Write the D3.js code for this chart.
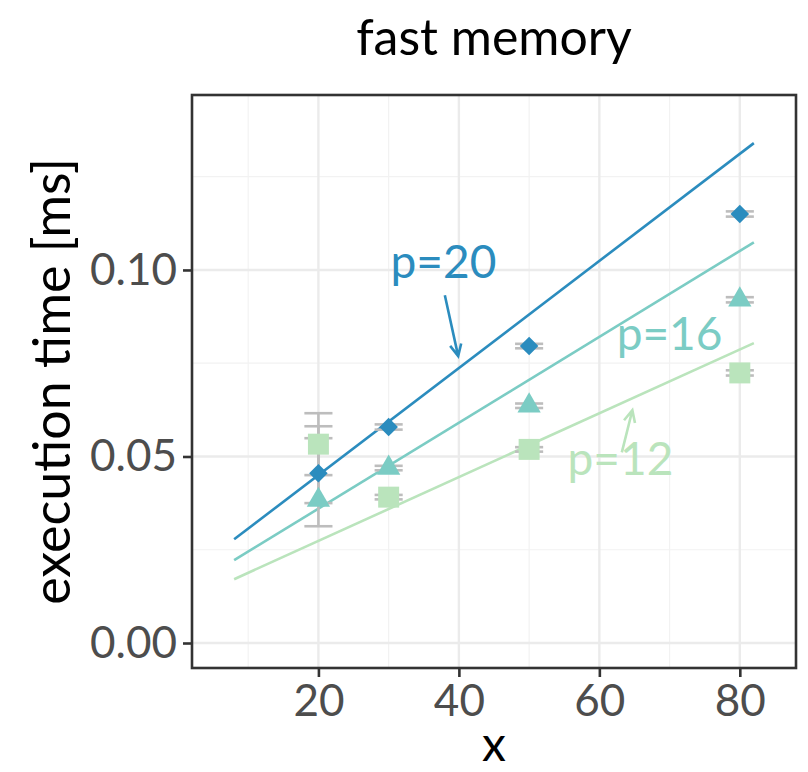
<!DOCTYPE html>
<html>
<head>
<meta charset="utf-8">
<script src="https://cdn.jsdelivr.net/npm/d3@7"></script>
<style>
  body { margin: 0; background: #fff; }
  text { font-family: Lato, "Open Sans", sans-serif; }
</style>
</head>
<body>
<div id="container"></div>
<script>
/* CONSTANTS AND GLOBALS */
const width = 808,
  height = 772,
  margin = { top: 95, bottom: 104, left: 192, right: 12 },
  colors = { p20: '#2b8cbe', p16: '#7bccc4', p12: '#bae4bc', err: '#bdbdbd' }

/* DATA */
const sizes = [20, 30, 50, 80]
const p20 = [0.0455, 0.0579, 0.0796, 0.1150]
const p16 = [0.0383, 0.0469, 0.0636, 0.0920]
const p12 = [0.0533, 0.0391, 0.0519, 0.0724]
const p20Lo = [0.0375, 0.0572, 0.0790, 0.1143]
const p20Hi = [0.0549, 0.0586, 0.0802, 0.1157]
const p16Lo = [0.0313, 0.0463, 0.0630, 0.0913]
const p16Hi = [0.0581, 0.0475, 0.0642, 0.0927]
const p12Lo = [0.0450, 0.0385, 0.0513, 0.0717]
const p12Hi = [0.0616, 0.0397, 0.0525, 0.0731]

// fitted lines, end points
const fitX = [8, 82]
const fit20 = [0.0278, 0.1340]
const fit16 = [0.0222, 0.1074]
const fit12 = [0.0171, 0.0804]

const xTicks = [20, 40, 60, 80]
const xMinor = [10, 30, 50, 70]
const yTicks = [0, 0.05, 0.10]
const yMinor = [0.025, 0.075, 0.125]

const labels = [
  { text: 'p=20', x: 37.8, y: 0.0978, color: colors.p20 },
  { text: 'p=16', x: 70.0, y: 0.0785, color: colors.p16 },
  { text: 'p=12', x: 63.0, y: 0.0450, color: colors.p12 }
]
const arrows = [
  { x1: 38.0, y1: 0.0932, x2: 39.9, y2: 0.0769, color: colors.p20 },
  { x1: 63.2, y1: 0.0511, x2: 64.7, y2: 0.0624, color: colors.p12 }
]

const series = [
  { key: 'p20', y: p20, lo: p20Lo, hi: p20Hi, fit: fit20, shape: d3.symbolDiamond2, color: colors.p20, size: 220 },
  { key: 'p16', y: p16, lo: p16Lo, hi: p16Hi, fit: fit16, shape: d3.symbolTriangle, color: colors.p16, size: 235 },
  { key: 'p12', y: p12, lo: p12Lo, hi: p12Hi, fit: fit12, shape: d3.symbolSquare, color: colors.p12, size: 440 }
]

/* SCALES */
const xScale = d3.scaleLinear()
  .domain([2.0, 88.0])
  .range([margin.left, width - margin.right])

const yScale = d3.scaleLinear()
  .domain([-0.0067, 0.1469])
  .range([height - margin.bottom, margin.top])

/* HTML ELEMENTS */
const svg = d3.select('#container')
  .append('svg')
  .attr('width', width)
  .attr('height', height)

// grid
svg.selectAll('.minor-x').data(xMinor).join('line')
  .attr('x1', d => xScale(d)).attr('x2', d => xScale(d))
  .attr('y1', margin.top).attr('y2', height - margin.bottom)
  .attr('stroke', '#f2f2f2').attr('stroke-width', 1.2)
svg.selectAll('.minor-y').data(yMinor).join('line')
  .attr('y1', d => yScale(d)).attr('y2', d => yScale(d))
  .attr('x1', margin.left).attr('x2', width - margin.right)
  .attr('stroke', '#f2f2f2').attr('stroke-width', 1.2)
svg.selectAll('.major-x').data(xTicks).join('line')
  .attr('x1', d => xScale(d)).attr('x2', d => xScale(d))
  .attr('y1', margin.top).attr('y2', height - margin.bottom)
  .attr('stroke', '#ebebeb').attr('stroke-width', 2.4)
svg.selectAll('.major-y').data(yTicks).join('line')
  .attr('y1', d => yScale(d)).attr('y2', d => yScale(d))
  .attr('x1', margin.left).attr('x2', width - margin.right)
  .attr('stroke', '#ebebeb').attr('stroke-width', 2.4)

// fitted lines
const line = d3.line().x((d, i) => xScale(fitX[i])).y(d => yScale(d))
svg.selectAll('.fit').data(series).join('path')
  .attr('d', d => line(d.fit))
  .attr('fill', 'none')
  .attr('stroke', d => d.color)
  .attr('stroke-width', 2.6)

// error bars
const capHalf = 2
series.forEach(s => {
  const g = svg.append('g').attr('stroke', colors.err).attr('stroke-width', 2.6)
  sizes.forEach((x, i) => {
    g.append('line')
      .attr('x1', xScale(x)).attr('x2', xScale(x))
      .attr('y1', yScale(s.lo[i])).attr('y2', yScale(s.hi[i]))
    ;[s.lo[i], s.hi[i]].forEach(v => {
      g.append('line')
        .attr('x1', xScale(x - capHalf)).attr('x2', xScale(x + capHalf))
        .attr('y1', yScale(v)).attr('y2', yScale(v))
    })
  })
})

// points
series.forEach(s => {
  svg.selectAll('.pt-' + s.key).data(s.y).join('path')
    .attr('d', d3.symbol().type(s.shape).size(s.size))
    .attr('transform', (d, i) => `translate(${xScale(sizes[i])},${yScale(d)})`)
    .attr('fill', s.color)
})

// labels and arrows
svg.selectAll('.lab').data(labels).join('text')
  .attr('x', d => xScale(d.x))
  .attr('y', d => yScale(d.y))
  .attr('text-anchor', 'middle')
  .attr('font-size', 46)
  .attr('fill', d => d.color)
  .text(d => d.text)

arrows.forEach(a => {
  const x1 = xScale(a.x1), y1 = yScale(a.y1), x2 = xScale(a.x2), y2 = yScale(a.y2)
  const ang = Math.atan2(y2 - y1, x2 - x1), len = 13, spread = Math.PI / 7
  const path = d3.path()
  path.moveTo(x1, y1); path.lineTo(x2, y2)
  path.moveTo(x2 - len * Math.cos(ang - spread), y2 - len * Math.sin(ang - spread))
  path.lineTo(x2, y2)
  path.lineTo(x2 - len * Math.cos(ang + spread), y2 - len * Math.sin(ang + spread))
  svg.append('path').attr('d', path.toString())
    .attr('fill', 'none').attr('stroke', a.color).attr('stroke-width', 2.6)
})

// panel border
svg.append('rect')
  .attr('x', margin.left).attr('y', margin.top)
  .attr('width', width - margin.left - margin.right)
  .attr('height', height - margin.top - margin.bottom)
  .attr('fill', 'none').attr('stroke', '#333').attr('stroke-width', 2.6)

// axes
const xAxis = d3.axisBottom(xScale).tickValues(xTicks).tickSize(9).tickPadding(8).tickFormat(d3.format('d'))
const gx = svg.append('g')
  .attr('transform', `translate(0,${height - margin.bottom})`)
  .call(xAxis)
const yAxis = d3.axisLeft(yScale).tickValues(yTicks).tickSize(9).tickPadding(6).tickFormat(d3.format('.2f'))
const gy = svg.append('g')
  .attr('transform', `translate(${margin.left},0)`)
  .call(yAxis)
;[gx, gy].forEach(g => {
  g.select('.domain').remove()
  g.selectAll('.tick line').attr('stroke', '#333').attr('stroke-width', 2.6)
  g.selectAll('.tick text').attr('fill', '#4d4d4d').attr('font-size', 44)
    .attr('font-family', 'Lato, sans-serif')
})

// titles
svg.append('text')
  .attr('x', (margin.left + width - margin.right) / 2)
  .attr('y', 55)
  .attr('text-anchor', 'middle')
  .attr('font-size', 50)
  .text('fast memory')

svg.append('text')
  .attr('x', (margin.left + width - margin.right) / 2)
  .attr('y', 761)
  .attr('text-anchor', 'middle')
  .attr('font-size', 48)
  .text('x')

svg.append('text')
  .attr('transform', `translate(70,${(margin.top + height - margin.bottom) / 2}) rotate(-90)`)
  .attr('text-anchor', 'middle')
  .attr('font-size', 52)
  .text('execution time [ms]')
</script>
</body>
</html>
